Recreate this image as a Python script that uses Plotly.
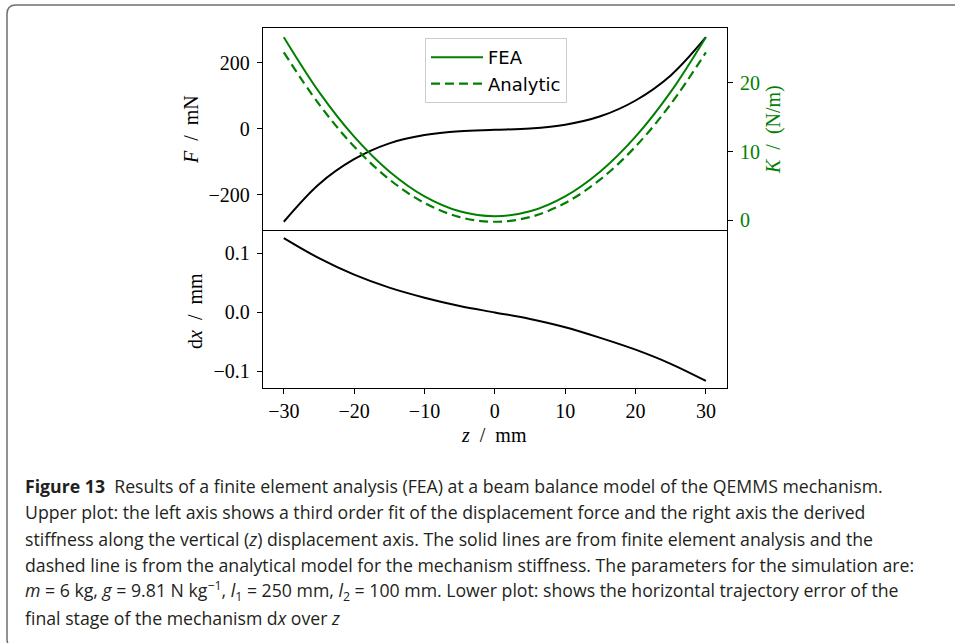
import plotly.graph_objects as go

# ---------------- data ----------------
z_mm = [-30, -25, -20, -15, -10, -5, 0, 5, 10, 15, 20, 25, 30]
force_mN = [-282, -168, -92, -44, -19, -7, -3, 1.2, 12.6, 38, 86, 162, 278]
stiffness_fea = [26.6, 18.66, 12.16, 7.1, 3.49, 1.32, 0.6, 1.32, 3.49, 7.1, 12.16, 18.66, 26.6]
stiffness_analytic = [24.4, 16.88, 10.73, 5.95, 2.53, 0.48, -0.2, 0.48, 2.53, 5.95, 10.73, 16.88, 24.4]
dx_mm = [0.126, 0.092, 0.064, 0.042, 0.025, 0.011, 0.0, -0.011, -0.025, -0.043, -0.063, -0.087, -0.116]

z_ticks = [-30, -20, -10, 0, 10, 20, 30]
z_ticktext = ["−30", "−20", "−10", "0", "10", "20", "30"]
f_ticks = [-200, 0, 200]
f_ticktext = ["−200", "0", "200"]
k_ticks = [0, 10, 20]
k_ticktext = ["0", "10", "20"]
dx_ticks = [-0.1, 0.0, 0.1]
dx_ticktext = ["−0.1", "0.0", "0.1"]

caption_lines = [
    "<b>Figure 13</b>  Results of a finite element analysis (FEA) at a beam balance model of the QEMMS mechanism.",
    "Upper plot: the left axis shows a third order fit of the displacement force and the right axis the derived",
    "stiffness along the vertical (<i>z</i>) displacement axis. The solid lines are from finite element analysis and the",
    "dashed line is from the analytical model for the mechanism stiffness. The parameters for the simulation are:",
    "<i>m</i> = 6 kg, <i>g</i> = 9.81 N kg<sup>−1</sup>, <i>l</i><sub>1</sub> = 250 mm, <i>l</i><sub>2</sub> = 100 mm. Lower plot: shows the horizontal trajectory error of the",
    "final stage of the mechanism d<i>x</i> over <i>z</i>",
]

# ---------------- layout geometry (pixels) ----------------
W, H = 955, 643
def px(x):
    return x / W
def py(y):
    return 1 - y / H

ax_l, ax_r = 262.7, 727
top_t, mid, bot_b = 28, 231, 388

GREEN = "#008000"
SERIF = "Liberation Serif, DejaVu Serif, serif"
SANS = "DejaVu Sans, sans-serif"
CAPFONT = "Open Sans, Noto Sans, sans-serif"
TICK = 20

fig = go.Figure()

fig.add_trace(go.Scatter(x=z_mm, y=force_mN, mode="lines", line=dict(color="black", width=2, shape="spline"),
                         xaxis="x", yaxis="y", showlegend=False))
fig.add_trace(go.Scatter(x=z_mm, y=stiffness_fea, mode="lines", name="FEA",
                         line=dict(color=GREEN, width=2, shape="spline"), xaxis="x", yaxis="y2"))
fig.add_trace(go.Scatter(x=z_mm, y=stiffness_analytic, mode="lines", name="Analytic",
                         line=dict(color=GREEN, width=2.2, dash="9px,5px", shape="spline"), xaxis="x", yaxis="y2"))
fig.add_trace(go.Scatter(x=z_mm, y=dx_mm, mode="lines", line=dict(color="black", width=2, shape="spline"),
                         xaxis="x2", yaxis="y3", showlegend=False))

axis_common = dict(showline=True, linecolor="black", linewidth=1, mirror=True, showgrid=False, zeroline=False,
                   ticks="outside", ticklen=5, tickwidth=1, tickcolor="black", ticklabelstandoff=3,
                   tickfont=dict(family=SERIF, size=TICK, color="black"))

fig.update_layout(
    width=W, height=H, margin=dict(l=0, r=0, t=0, b=0),
    paper_bgcolor="white", plot_bgcolor="white",
    xaxis=dict(axis_common, domain=[px(ax_l), px(ax_r)], range=[-33, 33], anchor="y",
               side="top", mirror=False, showticklabels=False, ticks=""),
    yaxis=dict(axis_common, domain=[py(mid), py(top_t)], range=[-310, 306], anchor="x",
               tickvals=f_ticks, ticktext=f_ticktext, mirror=False),
    yaxis2=dict(axis_common, overlaying="y", side="right", range=[-1.54, 27.94], anchor="x",
                tickvals=k_ticks, ticktext=k_ticktext, mirror=False,
                tickfont=dict(family=SERIF, size=TICK, color=GREEN)),
    xaxis2=dict(axis_common, domain=[px(ax_l), px(ax_r)], range=[-33, 33], anchor="y3",
                tickvals=z_ticks, ticktext=z_ticktext, ticklabelstandoff=0),
    yaxis3=dict(axis_common, domain=[py(bot_b), py(mid)], range=[-0.128, 0.138], anchor="x2",
                tickvals=dx_ticks, ticktext=dx_ticktext),
    legend=dict(x=px(425), y=py(38), xanchor="left", yanchor="top", bgcolor="white",
                bordercolor="#cccccc", borderwidth=1, font=dict(family=SANS, size=18, color="black"),
                itemwidth=52),
)

annotations = [
    dict(text="<i>F</i>  /  mN", x=px(191), y=py(130), textangle=-90,
         font=dict(family=SERIF, size=20, color="black")),
    dict(text="<i>K</i>  /  (N/m)", x=px(773), y=py(130), textangle=-90,
         font=dict(family=SERIF, size=20, color=GREEN)),
    dict(text="d<i>x</i>  /  mm", x=px(195), y=py(311), textangle=-90,
         font=dict(family=SERIF, size=20, color="black")),
    dict(text="<i>z</i>  /  mm", x=px(494), y=py(435),
         font=dict(family=SERIF, size=20, color="black")),
]
for a in annotations:
    a.update(xref="paper", yref="paper", showarrow=False, xanchor="center", yanchor="middle")

cap_y0, cap_dy = 486, 26.3
for i, line in enumerate(caption_lines):
    annotations.append(dict(text=line, x=px(23), y=py(cap_y0 + i * cap_dy), xref="paper", yref="paper",
                            showarrow=False, xanchor="left", yanchor="middle", align="left",
                            font=dict(family=CAPFONT, size=17.7, color="#231f20")))
fig.update_layout(annotations=annotations)

# rounded frame around the figure
fx0, fy0, fx1, fy1, r = 7, 5, 975, 648, 9
path = (f"M {px(fx1)} {py(fy0)} L {px(fx0 + r)} {py(fy0)} "
        f"Q {px(fx0)} {py(fy0)} {px(fx0)} {py(fy0 + r)} "
        f"L {px(fx0)} {py(fy1 - r)} Q {px(fx0)} {py(fy1)} {px(fx0 + r)} {py(fy1)} L {px(fx1)} {py(fy1)}")
fig.add_shape(type="path", path=path, xref="paper", yref="paper", line=dict(color="#6d6e71", width=1.5))

fig.write_html("out.html", config={"displayModeBar": False},
               post_script="document.body.style.margin='0';document.body.style.overflow='hidden';")
